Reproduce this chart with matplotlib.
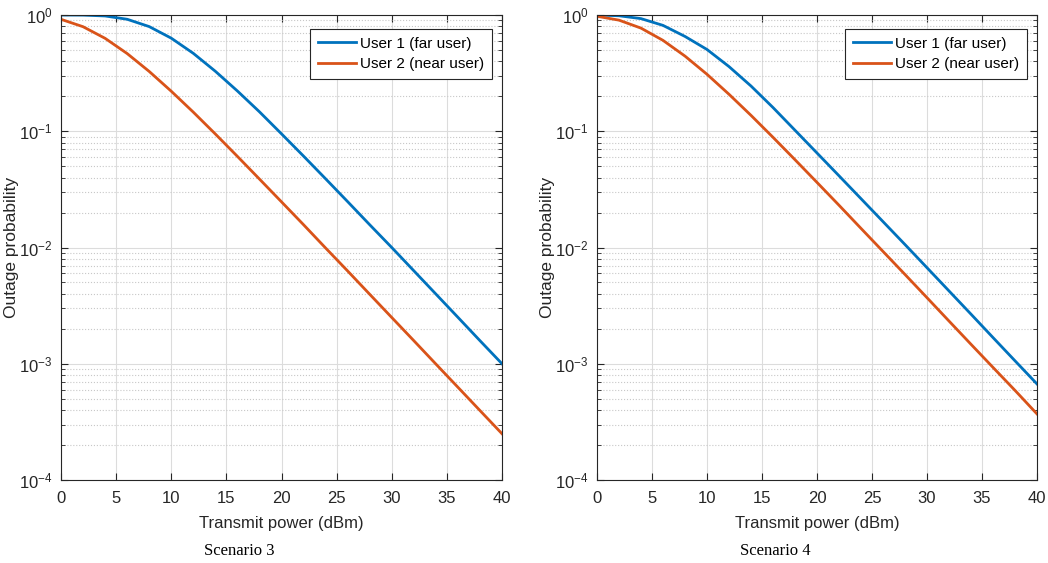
import numpy as np
import matplotlib.pyplot as plt
from matplotlib.ticker import LogLocator, NullFormatter

plt.rcParams['font.family'] = ['Liberation Sans', 'DejaVu Sans']

# Transmit power grid (dBm)
power = [0, 2, 4, 6, 8, 10, 12, 14, 16, 18, 20, 22, 24, 26, 28, 30, 32, 34, 36, 38, 40]

# Scenario 3 outage probabilities
s3_far = [1.0, 0.998, 0.981, 0.919, 0.795, 0.632, 0.468, 0.328, 0.222, 0.147, 0.095,
          0.0611, 0.0390, 0.0248, 0.0157, 0.0100, 0.00631, 0.00398, 0.00251, 0.00158, 0.00100]
s3_near = [0.918, 0.793, 0.630, 0.466, 0.327, 0.221, 0.146, 0.0947, 0.0608, 0.0388, 0.0247,
           0.0157, 0.0099, 0.00628, 0.00396, 0.0025, 0.00158, 0.000995, 0.000628, 0.000396, 0.00025]

# Scenario 4 outage probabilities
s4_far = [0.999, 0.985, 0.931, 0.814, 0.654, 0.505, 0.36, 0.245, 0.16, 0.102, 0.065,
          0.0414, 0.0263, 0.0167, 0.0106, 0.0067, 0.00423, 0.00267, 0.00168, 0.00106, 0.00067]
s4_near = [0.975, 0.903, 0.771, 0.605, 0.443, 0.309, 0.208, 0.137, 0.0887, 0.0569, 0.0363,
           0.0231, 0.0146, 0.00925, 0.00586, 0.0037, 0.00233, 0.00147, 0.00093, 0.00059, 0.00037]

labels = ['User 1 (far user)', 'User 2 (near user)']
captions = ['Scenario 3', 'Scenario 4']
xticks = [0, 5, 10, 15, 20, 25, 30, 35, 40]

blue = '#0072BD'
orange = '#D95319'

fig = plt.figure(figsize=(10.48, 5.63), dpi=100)
W, H = 1048, 563
boxes = [(61, 15, 502, 480), (597, 15, 1037, 480)]
data = [(s3_far, s3_near), (s4_far, s4_near)]

for (x0, y0, x1, y1), (far, near), cap in zip(boxes, data, captions):
    ax = fig.add_axes([x0 / W, 1 - y1 / H, (x1 - x0) / W, (y1 - y0) / H])
    ax.semilogy(power, far, color=blue, lw=2, label=labels[0])
    ax.semilogy(power, near, color=orange, lw=2, label=labels[1])
    ax.set_xlim(0, 40)
    ax.set_ylim(1e-4, 1)
    ax.set_xticks(xticks)
    ax.yaxis.set_major_locator(LogLocator(base=10, numticks=10))
    ax.yaxis.set_minor_locator(LogLocator(base=10, subs=np.arange(2, 10), numticks=20))
    ax.yaxis.set_minor_formatter(NullFormatter())
    ax.grid(True, which='major', color='#dcdcdc', lw=0.8)
    ax.grid(True, which='minor', axis='y', color='#c8c8c8', lw=0.8, ls=':')
    ax.set_axisbelow(True)
    ax.tick_params(which='both', direction='in', top=True, right=True,
                   colors='#262626', labelsize=12)
    ax.tick_params(which='major', length=5)
    ax.tick_params(which='minor', length=3)
    ax.tick_params(axis='x', pad=8)
    ax.tick_params(axis='y', pad=6)
    for s in ax.spines.values():
        s.set_color('#262626')
        s.set_linewidth(0.8)
    ax.set_xlabel('Transmit power (dBm)', fontsize=12, color='#262626')
    ax.xaxis.set_label_coords(0.5, -36 / (y1 - y0))
    ax.set_ylabel('Outage probability', fontsize=12.5, color='#262626')
    ax.yaxis.set_label_coords(-42 / (x1 - x0), 0.5)
    leg = ax.legend(loc='upper right', fontsize=11, fancybox=False, framealpha=1,
                    edgecolor='#262626', handlelength=2.5, handletextpad=0.25,
                    borderpad=0.5, labelspacing=0.45, borderaxespad=0,
                    bbox_to_anchor=(0.977, 0.97))
    leg.get_frame().set_linewidth(0.8)
    fig.text(((x0 + x1) / 2 - 42) / W, 1 - 551 / H, cap, ha='center', va='center',
             fontsize=12, family=['Liberation Serif', 'DejaVu Serif'])

fig.savefig('out.png', dpi=100, facecolor='white')
